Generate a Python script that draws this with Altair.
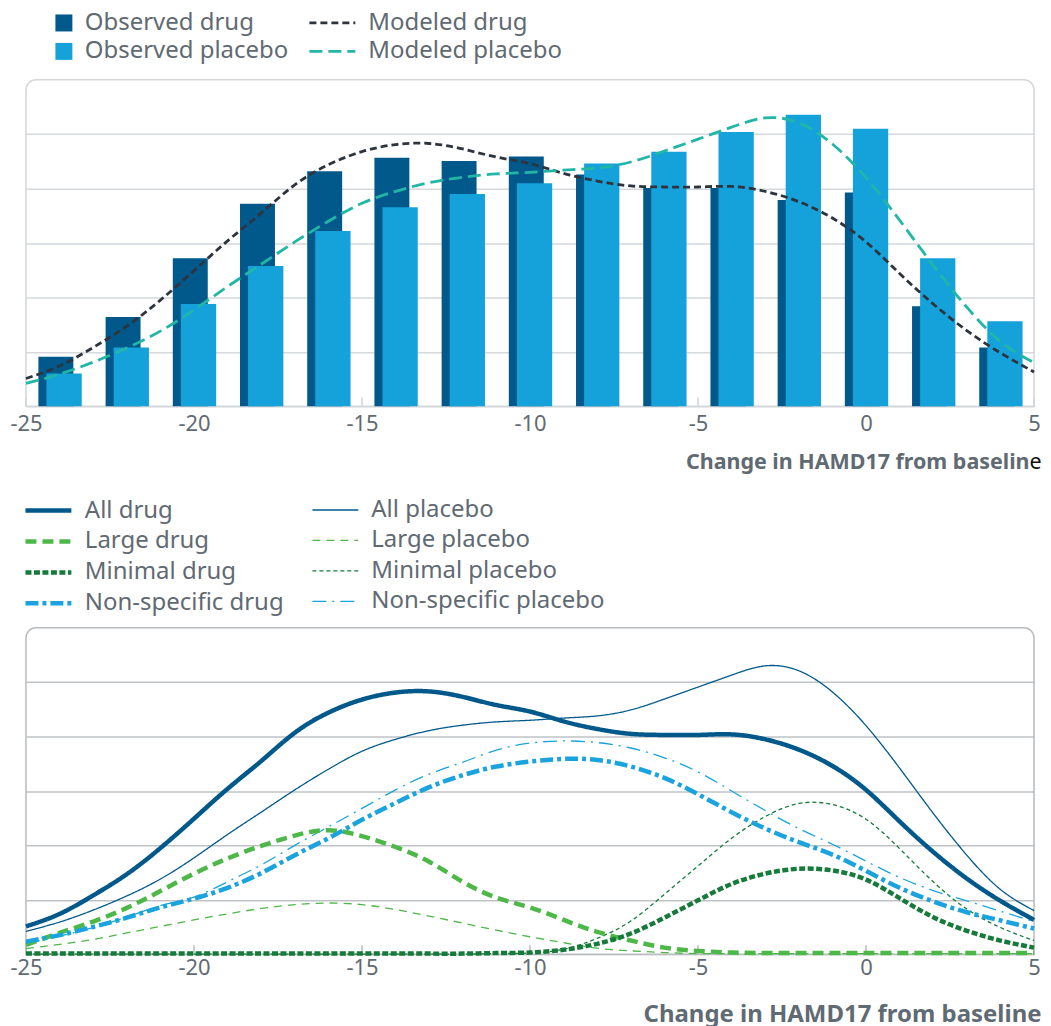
import altair as alt
import pandas as pd

# ---------------- data ----------------
x_grid = list(range(-25, 6))

modeled_drug = [0.51, 0.74, 1.08, 1.47, 1.95, 2.49, 3.04, 3.55, 4.07, 4.44, 4.68, 4.81, 4.83, 4.73, 4.58,
                4.46, 4.28, 4.14, 4.05, 4.03, 4.03, 4.04, 3.95, 3.76, 3.46, 3.02, 2.44, 1.88, 1.39, 0.98, 0.63]
modeled_placebo = [0.42, 0.59, 0.81, 1.07, 1.38, 1.77, 2.20, 2.61, 3.02, 3.40, 3.73, 3.95, 4.11, 4.21, 4.27,
                   4.30, 4.34, 4.38, 4.49, 4.69, 4.91, 5.13, 5.30, 5.21, 4.82, 4.20, 3.42, 2.59, 1.82, 1.19, 0.80]

large_drug = [0.17, 0.39, 0.60, 0.85, 1.16, 1.48, 1.76, 1.99, 2.18, 2.28, 2.17, 1.97, 1.70, 1.33, 1.04,
              0.86, 0.63, 0.41, 0.25, 0.12, 0.06, 0.03, 0.02, 0.02, 0.02, 0.02, 0.02, 0.02, 0.02, 0.02, 0.02]
large_placebo = [0.10, 0.18, 0.27, 0.39, 0.51, 0.63, 0.74, 0.84, 0.91, 0.94, 0.91, 0.82, 0.70, 0.57, 0.44,
                 0.32, 0.21, 0.11, 0.06, 0.03, 0.01, 0.01, 0.01, 0.01, 0.01, 0.01, 0.01, 0.01, 0.01, 0.01, 0.01]
minimal_drug = [0.01, 0.01, 0.01, 0.01, 0.01, 0.01, 0.01, 0.01, 0.01, 0.01, 0.01, 0.01, 0.01, 0.01, 0.02,
                0.03, 0.08, 0.19, 0.38, 0.67, 0.99, 1.29, 1.48, 1.57, 1.54, 1.37, 1.03, 0.68, 0.43, 0.25, 0.12]
minimal_placebo = [0.0, 0.0, 0.0, 0.0, 0.0, 0.0, 0.0, 0.0, 0.0, 0.0, 0.0, 0.0, 0.0, 0.0, 0.01,
                   0.02, 0.09, 0.29, 0.61, 1.10, 1.62, 2.13, 2.53, 2.77, 2.75, 2.48, 1.94, 1.33, 0.83, 0.49, 0.25]
nonspecific_drug = [0.23, 0.35, 0.50, 0.67, 0.86, 1.02, 1.22, 1.49, 1.82, 2.13, 2.47, 2.78, 3.07, 3.29, 3.45,
                    3.54, 3.59, 3.57, 3.45, 3.24, 2.94, 2.61, 2.31, 2.06, 1.83, 1.53, 1.22, 0.97, 0.77, 0.62, 0.47]
nonspecific_placebo = [0.20, 0.33, 0.49, 0.68, 0.89, 1.05, 1.33, 1.64, 2.00, 2.34, 2.68, 3.02, 3.31, 3.53, 3.75,
                       3.88, 3.92, 3.89, 3.79, 3.61, 3.35, 3.00, 2.64, 2.31, 2.02, 1.71, 1.41, 1.17, 0.98, 0.79, 0.60]

bin_centers = [-24, -22, -20, -18, -16, -14, -12, -10, -8, -6, -4, -2, 0, 2, 4]
observed_drug = [0.91, 1.64, 2.72, 3.72, 4.32, 4.57, 4.51, 4.59, 4.26, 4.01, 4.01, 3.79, 3.93, 1.84, 1.08]
observed_placebo = [0.60, 1.08, 1.88, 2.58, 3.22, 3.66, 3.90, 4.10, 4.46, 4.68, 5.04, 5.36, 5.10, 2.72, 1.56]

x_ticks = [-25, -20, -15, -10, -5, 0, 5]
grid_values = [1, 2, 3, 4, 5]
axis_title = "Change in HAMD17 from baseline"

# ---------------- style ----------------
W, H = 1010, 327
FONT = "Noto Sans"
TXT = "#5f6a72"
LEG_SIZE = 24
line_symbol = "M-2.3,0H2.3"
CURVE = "natural"

x_scale = alt.Scale(domain=[-25, 5], nice=False, zero=False)
y_scale = alt.Scale(domain=[0, 6], nice=False)


def x_axis(pad):
    return alt.Axis(values=x_ticks, labelExpr="'' + datum.value", grid=False, ticks=False,
                    domainColor="#cfd3d6", domainWidth=1.5, labelFont=FONT, labelFontSize=22,
                    labelColor=TXT, labelPadding=pad, title=None, labelFlush=False)


def y_axis(color):
    return alt.Axis(values=grid_values, labels=False, ticks=False, domain=False, grid=True,
                    gridColor=color, gridWidth=1.5, title=None)


def frame(color):
    return alt.Chart(pd.DataFrame({"f": [0]})).mark_rect(
        fill="transparent", stroke=color, strokeWidth=1.5,
        cornerRadiusTopLeft=10, cornerRadiusTopRight=10
    ).encode(x=alt.value(0), x2=alt.value(W), y=alt.value(0), y2=alt.value(H))


def tick_marks(color):
    return alt.Chart(pd.DataFrame({"t": x_ticks})).mark_rule(color=color, strokeWidth=1.5).encode(
        x=alt.X("t:Q", scale=x_scale), y=alt.value(H - 9), y2=alt.value(H))


def legend(x, y, symbol, size, offset, rows, stroke_w=None):
    extra = {}
    if stroke_w is not None:
        extra["symbolStrokeWidth"] = stroke_w
    return alt.Legend(orient="none", legendX=x, legendY=y, title=None, symbolType=symbol,
                      symbolSize=size, labelFont=FONT, labelFontSize=LEG_SIZE, labelColor=TXT,
                      labelOffset=offset, rowPadding=rows, padding=0, labelLimit=400, **extra)


def long_df(series, values):
    return pd.DataFrame({
        "x": x_grid * len(series),
        "value": [v for vals in values for v in vals],
        "series": [s for s in series for _ in x_grid],
    })


def curve_layer(df, series, colors, dashes, width, leg, axes=None):
    if axes is not None:
        xe = alt.X("x:Q", scale=x_scale, axis=axes[0])
        ye = alt.Y("value:Q", scale=y_scale, axis=axes[1])
    else:
        xe = alt.X("x:Q", scale=x_scale)
        ye = alt.Y("value:Q", scale=y_scale)
    return alt.Chart(df).mark_line(interpolate=CURVE, strokeWidth=width).encode(
        x=xe,
        y=ye,
        stroke=alt.Stroke("series:N", scale=alt.Scale(domain=series, range=colors), legend=leg),
        strokeDash=alt.StrokeDash("series:N", scale=alt.Scale(domain=series, range=dashes), legend=leg),
    )


# ---------------- top chart ----------------
obs_series = ["Observed drug", "Observed placebo"]
bars_df = pd.DataFrame({
    "center": bin_centers + bin_centers,
    "value": observed_drug + observed_placebo,
    "series": [obs_series[0]] * len(bin_centers) + [obs_series[1]] * len(bin_centers),
})
bars = alt.Chart(bars_df).transform_calculate(
    x0="datum.series == 'Observed drug' ? datum.center - 0.63 : datum.center - 0.39",
    x1="datum.series == 'Observed drug' ? datum.center + 0.41 : datum.center + 0.66",
).mark_bar().encode(
    x=alt.X("x0:Q", scale=x_scale, axis=x_axis(7.5)),
    x2="x1:Q",
    y=alt.Y("value:Q", scale=y_scale, axis=y_axis("#d5d9db")),
    y2=alt.datum(0),
    color=alt.Color("series:N", scale=alt.Scale(domain=obs_series, range=["#00588b", "#15a2db"]),
                    legend=legend(26, -69, "square", 289, 9, 4.5)),
)

mod_series = ["Modeled drug", "Modeled placebo"]
mod_lines = curve_layer(
    long_df(mod_series, [modeled_drug, modeled_placebo]), mod_series,
    ["#2d343d", "#22b6a7"], [[7, 4], [13, 6]], 2.8,
    legend(295, -69, line_symbol, 400, 24, 4.5, 2.8))

top_title = alt.Chart(pd.DataFrame({"t": [axis_title[:-1]]})).mark_text(
    align="right", baseline="middle", font=FONT, fontSize=21.5, fontWeight="bold", color=TXT
).encode(x=alt.value(W - 4.5), y=alt.value(H + 57), text="t:N")
top_title_end = alt.Chart(pd.DataFrame({"t": [axis_title[-1]]})).mark_text(
    align="left", baseline="middle", font=FONT, fontSize=21.5, color="#111111"
).encode(x=alt.value(W - 4.5), y=alt.value(H + 57), text="t:N")

top = alt.layer(
    frame("#d3d7d9"), tick_marks("#cfd3d6"), bars, mod_lines, top_title, top_title_end
).properties(width=W, height=H)

# ---------------- bottom chart ----------------
placebo_series = ["All placebo", "Large placebo", "Minimal placebo", "Non-specific placebo"]
drug_series = ["All drug", "Large drug", "Minimal drug", "Non-specific drug"]
comp_colors = ["#00588b", "#4db848", "#167a3b", "#1aa3dc"]

placebo_lines = curve_layer(
    long_df(placebo_series, [modeled_placebo, large_placebo, minimal_placebo, nonspecific_placebo]),
    placebo_series, comp_colors, [[1, 0], [8, 6], [4, 3], [14, 6, 2, 6]], 1.3,
    legend(298, -130, line_symbol, 400, 24, 6.5, 1.3),
    axes=(x_axis(3), y_axis("#bfc3c6")))
drug_lines = curve_layer(
    long_df(drug_series, [modeled_drug, large_drug, minimal_drug, nonspecific_drug]),
    drug_series, comp_colors, [[1, 0], [11, 6], [6, 2.5], [13, 4, 4, 4]], 4.5,
    legend(10, -130, line_symbol, 400, 24, 6.0, 4.5))

bottom_title = alt.Chart(pd.DataFrame({"t": [axis_title]})).mark_text(
    align="right", baseline="middle", font=FONT, fontSize=24, fontWeight="bold", color=TXT
).encode(x=alt.value(W + 7.5), y=alt.value(H + 61), text="t:N")

bottom = alt.layer(
    frame("#b8bcbf"), tick_marks("#b8bcbf"), placebo_lines, drug_lines, bottom_title
).resolve_scale(stroke="independent", strokeDash="independent").properties(width=W, height=H)

chart = alt.vconcat(top, bottom, spacing=24).resolve_scale(
    color="independent", stroke="independent", strokeDash="independent"
).properties(padding={"left": 1, "top": 2, "right": 0, "bottom": 0}).configure_view(strokeWidth=0)

chart.save("out.html", embed_options={"renderer": "svg", "actions": False})
